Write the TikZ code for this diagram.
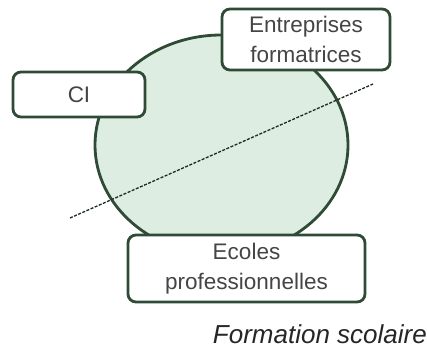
\documentclass[tikz,border=0pt]{standalone}
\usepackage{fontspec}
\setmainfont{Liberation Sans}
\usetikzlibrary{shapes.geometric}
\definecolor{edge}{HTML}{2F4A35}
\definecolor{pale}{HTML}{DDEDE2}
\definecolor{txt}{HTML}{454545}
\begin{document}
\begin{tikzpicture}[x=1pt,y=-1pt,
  box/.style={draw=edge, line width=2.8pt, rounded corners=8pt, fill=white, text=txt, align=center, inner sep=0pt},
  lbl/.style={font=\fontsize{22.5}{29.5}\selectfont}]
\useasboundingbox (0,0) rectangle (427,350);
\node[ellipse, draw=edge, line width=2.8pt, fill=pale, minimum width=253pt, minimum height=220pt, inner sep=0pt] (circ) at (221.5,145) {};
\coordinate (d1) at (70,218);
\coordinate (d2) at (373,84);
\draw[edge!60!black, line width=1.3pt, dash pattern=on 3pt off 1.5pt] (d1) -- (d2);
\node[box, lbl, minimum width=168pt, minimum height=61pt] (ent) at (306,39.5) {Entreprises\\formatrices};
\node[box, lbl, minimum width=132pt, minimum height=45pt] (ci) at (79,94.5) {CI};
\node[box, lbl, minimum width=237pt, minimum height=67pt] (eco) at (246.5,268.5) {Ecoles\\professionnelles};
\node[anchor=base east, text=black!85, font=\fontsize{26}{30}\selectfont\itshape, inner sep=0pt] (fs) at (427,343) {Formation scolaire};
\end{tikzpicture}
\end{document}
